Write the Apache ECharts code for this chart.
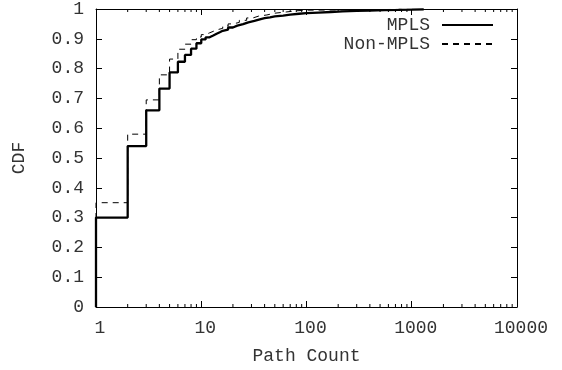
<!DOCTYPE html>
<html>
<head>
<meta charset="utf-8">
<script src="https://cdn.jsdelivr.net/npm/echarts@6/dist/echarts.min.js"></script>
<style>html,body{margin:0;padding:0;background:#fff;}#c{width:562px;height:370px;}</style>
</head>
<body>
<div id="c"></div>
<script>
// ---- data ----
var seriesNames = ['MPLS', 'Non-MPLS'];
var mplsX = [1, 1, 2, 3, 4, 5, 6, 7, 8, 9, 10, 11, 12, 13, 14, 15, 16, 18, 20, 22, 25, 28, 32, 36, 40, 45, 50, 60, 70, 85, 100, 130, 170, 220, 300, 400, 550, 750, 1000, 1300];
var mplsY = [0, 0.30, 0.54, 0.66, 0.733, 0.787, 0.823, 0.846, 0.867, 0.885, 0.898, 0.905, 0.911, 0.917, 0.922, 0.927, 0.931, 0.938, 0.944, 0.949, 0.955, 0.960, 0.965, 0.969, 0.972, 0.975, 0.978, 0.981, 0.984, 0.986, 0.988, 0.990, 0.992, 0.994, 0.995, 0.996, 0.997, 0.998, 0.999, 1.0];
var nonX = [1, 1, 2, 3, 4, 5, 6, 7, 8, 9, 10, 11, 12, 13, 14, 16, 18, 20, 23, 27, 31, 35, 42, 50, 64, 80, 100, 200, 1000];
var nonY = [0, 0.35, 0.58, 0.695, 0.779, 0.832, 0.865, 0.882, 0.897, 0.906, 0.914, 0.920, 0.925, 0.930, 0.935, 0.943, 0.950, 0.955, 0.962, 0.970, 0.976, 0.980, 0.986, 0.990, 0.994, 0.996, 0.997, 0.999, 1.0];
var xTickLabels = ['1', '10', '100', '1000', '10000'];
var yTickLabels = ['0', '0.1', '0.2', '0.3', '0.4', '0.5', '0.6', '0.7', '0.8', '0.9', '1'];
var minorTicks = [2,3,4,5,6,7,8,9,20,30,40,50,60,70,80,90,200,300,400,500,600,700,800,900,2000,3000,4000,5000,6000,7000,8000,9000];

function pairs(xs, ys) { return xs.map(function (x, i) { return [x, ys[i]]; }); }

var FONT = 'Liberation Mono';
var TXT = '#333';
var chart = echarts.init(document.getElementById('c'), null, {renderer: 'canvas'});

function mirrorX(pos, idx) {
  return {
    type: 'log', logBase: 10, min: 1, max: 10000, position: pos, gridIndex: 0,
    axisLine: {show: true, onZero: false, lineStyle: {color: '#000', width: 1}},
    axisTick: {show: true, inside: true, length: 6, lineStyle: {color: '#000', width: 1}},
    splitLine: {show: false},
    axisLabel: idx === 0 ? {
      show: true, fontFamily: FONT, fontSize: 18, color: TXT, margin: 12,
      padding: [0, 0, 0, 8],
      formatter: function (v) {
        var k = Math.round(Math.log10(v));
        return xTickLabels[k] !== undefined ? xTickLabels[k] : '';
      }
    } : {show: false},
    name: idx === 0 ? 'Path Count' : '', nameLocation: 'middle', nameGap: 40,
    nameTextStyle: {fontFamily: FONT, fontSize: 18, color: TXT}
  };
}
function mirrorY(pos, idx) {
  return {
    type: 'value', min: 0, max: 1, interval: 0.1, position: pos,
    axisLine: {show: true, onZero: false, lineStyle: {color: '#000', width: 1}},
    axisTick: {show: true, inside: true, length: 6, lineStyle: {color: '#000', width: 1}},
    splitLine: {show: false},
    axisLabel: idx === 0 ? {
      show: true, fontFamily: FONT, fontSize: 18, color: TXT, margin: 12,
      formatter: function (v) { return yTickLabels[Math.round(v * 10)]; }
    } : {show: false},
    name: idx === 0 ? 'CDF' : '', nameLocation: 'middle', nameGap: 68,
    nameTextStyle: {fontFamily: FONT, fontSize: 18, color: TXT}
  };
}

function legendFor(name, top) {
  return {
    data: [name], right: 68, top: top, align: 'right', orient: 'vertical', padding: 0,
    itemWidth: 51, itemHeight: 18,
    itemStyle: {opacity: 0},
    textStyle: {fontFamily: FONT, fontSize: 18, color: TXT, padding: [0, 7, 0, 0]}
  };
}

var option = {
  animation: false,
  backgroundColor: '#fff',
  grid: {left: 96, right: 45, top: 8, bottom: 63, containLabel: false},
  xAxis: [mirrorX('bottom', 0), mirrorX('top', 1)],
  yAxis: [mirrorY('left', 0), mirrorY('right', 1)],
  legend: [legendFor(seriesNames[0], 16), legendFor(seriesNames[1], 35)],
  series: [
    {
      name: seriesNames[1], type: 'line', step: 'end', xAxisIndex: 0, yAxisIndex: 0,
      data: pairs(nonX, nonY), symbol: 'none', showSymbol: false, clip: false,
      lineStyle: {color: '#000', width: 1, type: [6, 5]}, itemStyle: {color: '#000'}, z: 3
    },
    {
      name: seriesNames[0], type: 'line', step: 'end', xAxisIndex: 0, yAxisIndex: 0,
      data: pairs(mplsX, mplsY), symbol: 'none', showSymbol: false, clip: false,
      lineStyle: {color: '#000', width: 2.3, type: 'solid'}, itemStyle: {color: '#000'}, z: 4
    },
    {
      type: 'custom', xAxisIndex: 0, yAxisIndex: 0, silent: true, clip: false,
      data: minorTicks.map(function (v) { return [v]; }),
      renderItem: function (params, api) {
        var b = api.coord([api.value(0), 0]);
        var t = api.coord([api.value(0), 1]);
        return {type: 'group', children: [
          {type: 'line', shape: {x1: b[0], y1: b[1], x2: b[0], y2: b[1] - 3}, style: {stroke: '#000', lineWidth: 1}},
          {type: 'line', shape: {x1: t[0], y1: t[1], x2: t[0], y2: t[1] + 3}, style: {stroke: '#000', lineWidth: 1}}
        ]};
      },
      z: 2
    }
  ]
};
chart.setOption(option);
</script>
</body>
</html>
